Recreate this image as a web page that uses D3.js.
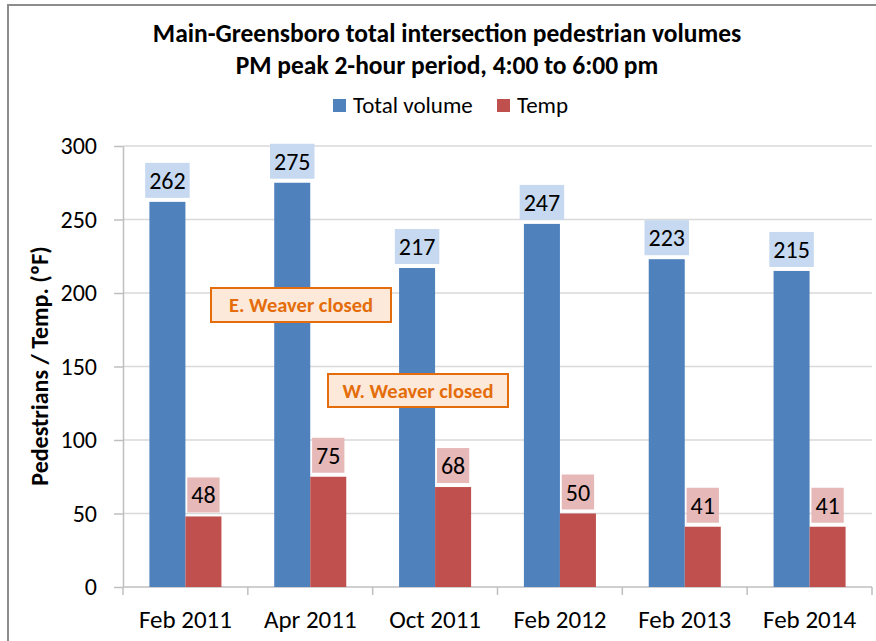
<!DOCTYPE html>
<html>
<head>
<meta charset="utf-8">
<script src="https://cdn.jsdelivr.net/npm/d3@7"></script>
<style>
  body { margin: 0; background: #fff; overflow: hidden; }
  text { font-family: Carlito, Calibri, Lato, sans-serif; fill: #000; }
</style>
</head>
<body>
<script>
// chart values
var categories = ["Feb 2011", "Apr 2011", "Oct 2011", "Feb 2012", "Feb 2013", "Feb 2014"];
var seriesNames = ["Total volume", "Temp"];
var totalVolume = [262, 275, 217, 247, 223, 215];
var temp = [48, 75, 68, 50, 41, 41];
var yTicks = [0, 50, 100, 150, 200, 250, 300];
var notes = ["E. Weaver closed", "W. Weaver closed"];

var width = 876,
    height = 641;

var barColors = ["#4f81bd", "#c0504d"];
var labelFills = ["#c6d9f1", "#e6b9b8"];

var svg = d3.select("body")
    .append("svg")
    .attr("width", width)
    .attr("height", height)
    .style("display", "block");

// outer chart frame: only the top and left edges are in view
svg.append("path")
    .attr("d", "M8," + height + "V5H" + width)
    .attr("fill", "none")
    .attr("stroke", "#8c8c8c")
    .attr("stroke-width", 2);

var plot = { left: 123, right: 872, top: 146, bottom: 587 };

var x0 = d3.scaleBand()
    .domain(categories)
    .range([plot.left, plot.right])
    .paddingInner(0.423)
    .paddingOuter(0.2115);

var x1 = d3.scaleBand()
    .domain(seriesNames)
    .range([0, x0.bandwidth()]);

var y = d3.scaleLinear()
    .domain([0, 300])
    .range([plot.bottom, plot.top]);

// gridlines
svg.append("g")
  .selectAll("line")
  .data(yTicks.filter(function(d) { return d > 0; }))
  .enter()
  .append("line")
    .attr("x1", plot.left).attr("x2", plot.right)
    .attr("y1", function(d) { return y(d); })
    .attr("y2", function(d) { return y(d); })
    .attr("stroke", "#d9d9d9")
    .attr("stroke-width", 1.5);

// y axis
var yAxis = svg.append("g")
    .attr("transform", "translate(" + plot.left + ",0)")
    .call(d3.axisLeft(y).tickValues(yTicks).tickSize(9).tickPadding(17).tickSizeOuter(0));
yAxis.select(".domain").attr("stroke", "#bfbfbf").attr("stroke-width", 1.5);
yAxis.selectAll(".tick line").attr("stroke", "#bfbfbf").attr("stroke-width", 1.5);
yAxis.selectAll(".tick text")
    .attr("fill", "#000")
    .style("font-size", "24px");

// x axis line and category separators
svg.append("line")
    .attr("x1", plot.left).attr("x2", plot.right)
    .attr("y1", y(0)).attr("y2", y(0))
    .attr("stroke", "#bfbfbf").attr("stroke-width", 1.5);

var step = x0.step();
svg.append("g")
  .selectAll("line")
  .data(d3.range(categories.length + 1))
  .enter()
  .append("line")
    .attr("x1", function(i) { return plot.left + i * step; })
    .attr("x2", function(i) { return plot.left + i * step; })
    .attr("y1", y(0)).attr("y2", y(0) + 8)
    .attr("stroke", "#bfbfbf").attr("stroke-width", 1.5);

svg.append("g")
  .selectAll("text")
  .data(categories)
  .enter()
  .append("text")
    .attr("x", function(d) { return x0(d) + x0.bandwidth() / 2; })
    .attr("y", 628)
    .attr("text-anchor", "middle")
    .style("font-size", "25px")
    .text(function(d) { return d; });

// bars + labels
var rows = categories.map(function(c, i) {
    return { cat: c, vals: [totalVolume[i], temp[i]] };
});

var groups = svg.append("g")
  .selectAll("g")
  .data(rows)
  .enter()
  .append("g")
    .attr("transform", function(d) { return "translate(" + x0(d.cat) + ",0)"; });

groups.selectAll("rect")
    .data(function(d) { return d.vals.map(function(v, j) { return { s: j, v: v }; }); })
    .enter()
    .append("rect")
      .attr("x", function(d) { return x1(seriesNames[d.s]); })
      .attr("width", x1.bandwidth())
      .attr("y", function(d) { return y(d.v); })
      .attr("height", function(d) { return y(0) - y(d.v); })
      .attr("fill", function(d) { return barColors[d.s]; });

groups.each(function(d) {
    var g = d3.select(this);
    d.vals.forEach(function(v, j) {
        var cx = x1(seriesNames[j]) + x1.bandwidth() / 2;
        var boxBottom = y(v) - 4;
        var box = g.append("rect").attr("fill", labelFills[j]);
        var t = g.append("text")
            .attr("x", cx)
            .attr("y", boxBottom - 9)
            .attr("text-anchor", "middle")
            .style("font-size", "24px")
            .text(v);
        var w = t.node().getComputedTextLength() + 8;
        box.attr("x", cx - w / 2).attr("width", w)
           .attr("y", boxBottom - 35).attr("height", 35);
    });
});

// annotation boxes
var noteBoxes = [
    { text: notes[0], x: 211, y: 288, w: 180, h: 34 },
    { text: notes[1], x: 328, y: 374, w: 180, h: 33 }
];
var ann = svg.append("g")
  .selectAll("g")
  .data(noteBoxes)
  .enter()
  .append("g");
ann.append("rect")
    .attr("x", function(d) { return d.x; })
    .attr("y", function(d) { return d.y; })
    .attr("width", function(d) { return d.w; })
    .attr("height", function(d) { return d.h; })
    .attr("fill", "#fde9d9")
    .attr("stroke", "#e46c0a")
    .attr("stroke-width", 2);
ann.append("text")
    .attr("x", function(d) { return d.x + d.w / 2; })
    .attr("y", function(d) { return d.y + d.h / 2 + 7; })
    .attr("text-anchor", "middle")
    .style("font-size", "20.5px")
    .style("font-weight", "bold")
    .style("fill", "#e46c0a")
    .text(function(d) { return d.text; });

// y axis title
svg.append("text")
    .attr("transform", "rotate(-90)")
    .attr("x", -366)
    .attr("y", 48)
    .attr("text-anchor", "middle")
    .style("font-size", "24px")
    .style("font-weight", "bold")
    .text("Pedestrians / Temp. (ºF)");

// title
var title = svg.append("g");
title.append("text")
    .attr("x", 447).attr("y", 42)
    .attr("text-anchor", "middle")
    .style("font-size", "25.5px")
    .style("font-weight", "bold")
    .text("Main-Greensboro total intersection pedestrian volumes");
title.append("text")
    .attr("x", 447).attr("y", 74)
    .attr("text-anchor", "middle")
    .style("font-size", "25.5px")
    .style("font-weight", "bold")
    .text("PM peak 2-hour period, 4:00 to 6:00 pm");

// legend
var legendX = [333, 497];
var legend = svg.append("g")
  .selectAll("g")
  .data(seriesNames)
  .enter()
  .append("g");
legend.append("rect")
    .attr("x", function(d, i) { return legendX[i]; })
    .attr("y", 99)
    .attr("width", 13).attr("height", 13)
    .attr("fill", function(d, i) { return barColors[i]; });
legend.append("text")
    .attr("x", function(d, i) { return legendX[i] + 20; })
    .attr("y", 113)
    .style("font-size", "23px")
    .text(function(d) { return d; });
</script>
</body>
</html>
